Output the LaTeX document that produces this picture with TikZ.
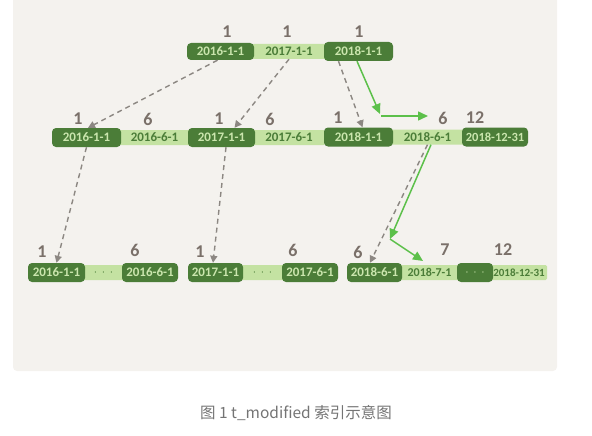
\documentclass[tikz,border=0pt]{standalone}
\usepackage{fontspec}
\setmainfont{Carlito}
\newfontfamily\cjk{Noto Sans CJK SC}
\usetikzlibrary{arrows.meta,calc}
\definecolor{bg}{HTML}{F4F2EE}
\definecolor{dg}{HTML}{4B7D38}
\definecolor{lg}{HTML}{C4E2A2}
\definecolor{dtext}{HTML}{CBE6AE}
\definecolor{ltext}{HTML}{4B7D38}
\definecolor{numc}{HTML}{7A7069}
\definecolor{dashc}{HTML}{8C8782}
\definecolor{grn}{HTML}{5CC04A}
\definecolor{capc}{HTML}{747474}
\tikzset{
 dbox/.style={fill=dg, text=dtext, rounded corners=4pt, minimum height=19pt, inner sep=0pt, font=\bfseries\fontsize{13}{13}\selectfont},
 lbox/.style={fill=lg, text=ltext, rounded corners=1.5pt, minimum height=15pt, inner sep=0pt, font=\bfseries\fontsize{13}{13}\selectfont},
 numlab/.style={text=numc, font=\bfseries\fontsize{18}{18}\selectfont, inner sep=0pt},
 dasharrow/.style={draw=dashc, line width=1.4pt, dash pattern=on 5pt off 4pt, -{Triangle[length=7pt,width=7pt]}},
 grnarrow/.style={draw=grn, line width=1.5pt, -{Triangle[length=10pt,width=9pt]}},
}
\begin{document}
\begin{tikzpicture}[x=1pt,y=-1pt]
\useasboundingbox (0,0) rectangle (592,436);
\begin{scope}
\clip (0,0) rectangle (592,436);
\fill[bg, rounded corners=4pt] (13,-10) rectangle (557,371);
\end{scope}

% top row
\node[lbox, minimum width=74pt] (T2) at (289,51.5) {2017-1-1};
\node[dbox, minimum width=67pt, minimum height=17pt] (T1) at (220.5,51.5) {2016-1-1};
\node[dbox, minimum width=69pt] (T3) at (358.5,51.5) {2018-1-1};
\node[numlab] (nt1) at (227,32) {1};
\node[numlab] (nt2) at (287,32) {1};
\node[numlab] (nt3) at (359,32) {1};

% middle row
\node[lbox, minimum width=71pt] (M2) at (154.5,137.5) {2016-6-1};
\node[lbox, minimum width=72pt] (M4) at (289,137.5) {2017-6-1};
\node[lbox, minimum width=73pt] (M6) at (427.5,137) {2018-6-1};
\node[dbox, minimum width=69pt] (M1) at (86.5,137.5) {2016-1-1};
\node[dbox, minimum width=67pt] (M3) at (221.5,137.5) {2017-1-1};
\node[dbox, minimum width=69pt] (M5) at (358.5,137) {2018-1-1};
\node[dbox, minimum width=66pt, font=\bfseries\fontsize{12.5}{12.5}\selectfont] (M7) at (495,137) {2018-12-31};
\node[numlab] (nm1) at (78,119) {1};
\node[numlab] (nm2) at (148,119) {6};
\node[numlab] (nm3) at (219,119) {1};
\node[numlab] (nm4) at (270,119) {6};
\node[numlab] (nm5) at (338,118) {1};
\node[numlab] (nm6) at (443,118) {6};
\node[numlab] (nm7) at (475,118) {12};

% bottom row
\node[lbox, minimum width=41pt] (B2) at (103.5,272.5) {$\cdot\,\cdot\,\cdot$};
\node[lbox, minimum width=43pt] (B5) at (262.5,272.5) {$\cdot\,\cdot\,\cdot$};
\node[lbox, minimum width=59pt, font=\bfseries\fontsize{12}{12}\selectfont] (B8) at (429.5,272.5) {2018-7-1};
\node[lbox, minimum width=56pt, font=\bfseries\fontsize{11}{11}\selectfont] (B10) at (519,272.5) {2018-12-31};
\node[dbox, minimum width=57pt] (B1) at (56.5,272.5) {2016-1-1};
\node[dbox, minimum width=56pt] (B3) at (150,272.5) {2016-6-1};
\node[dbox, minimum width=55pt] (B4) at (215.5,272.5) {2017-1-1};
\node[dbox, minimum width=56pt] (B6) at (310,272.5) {2017-6-1};
\node[dbox, minimum width=55pt] (B7) at (374.5,272.5) {2018-6-1};
\node[dbox, minimum width=36pt] (B9) at (475,272.5) {\color{dtext}$\cdot\,\cdot\,\cdot$};
\node[numlab] (nb1) at (42,252) {1};
\node[numlab] (nb2) at (135,250) {6};
\node[numlab] (nb3) at (200,252) {1};
\node[numlab] (nb4) at (293,250) {6};
\node[numlab] (nb5) at (358,252) {6};
\node[numlab] (nb6) at (445,250) {7};
\node[numlab] (nb7) at (503,250) {12};

% dashed pointers
\draw[dasharrow] ([xshift=-3pt]T1.south) -- ([xshift=1.5pt]M1.north);
\draw[dasharrow] (T2.south) -- ([xshift=13pt]M3.north);
\draw[dasharrow] ([xshift=-20pt]T3.south) -- ([xshift=4pt]M5.north);
\draw[dasharrow] (M1.south) -- (B1.north);
\draw[dasharrow] ([xshift=4.5pt]M3.south) -- ([xshift=-2.5pt]B4.north);
\draw[dasharrow] (M6.south) -- ([xshift=-4.5pt]B7.north);

% green search path
\coordinate (g1) at (380,114);
\coordinate (g2) at (428,116);
\coordinate (g3) at (390,239);
\coordinate (g4) at (423,261);
\draw[grnarrow] ([xshift=-1.5pt]T3.south) -- (g1);
\draw[grnarrow] ([shift={(1pt,-2pt)}]g1) -- (g2);
\draw[grnarrow] ([xshift=3.5pt]M6.south) -- (g3);
\draw[grnarrow] (g3) -- (g4);

% caption
\node[text=capc, font=\cjk\fontsize{15.5}{16}\selectfont, inner sep=0pt] (cap) at (296,413) {图 1 t\_modified 索引示意图};
\end{tikzpicture}
\end{document}
